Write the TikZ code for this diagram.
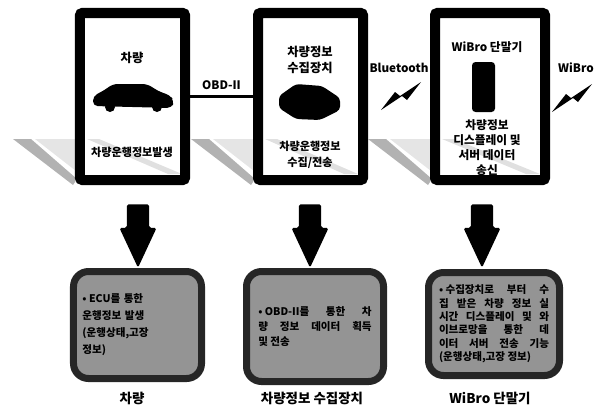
\documentclass[tikz,border=0pt]{standalone}
\usepackage{fontspec}
\setmainfont{Noto Sans CJK KR}
\usepackage{tikz}
\usetikzlibrary{shapes.arrows,positioning}

\tikzstyle{panel} = [rectangle, rounded corners=2pt, draw=black, line width=0.3cm, fill=white, minimum width=3.15cm, minimum height=5.01cm, inner sep=0pt]
\tikzstyle{infobox} = [rectangle, rounded corners=0.45cm, draw=black!85, line width=0.21cm, fill=black!42, minimum width=3.84cm, minimum height=3.21cm, text width=3.3cm, align=left, font=\bfseries\fontsize{8.5}{12.75}\selectfont]
\tikzstyle{title} = [font=\bfseries\fontsize{10}{13}\selectfont, align=center, inner sep=1pt]
\tikzstyle{note} = [font=\bfseries\fontsize{9.5}{13.5}\selectfont, align=center, inner sep=1pt]
\tikzstyle{caption} = [font=\bfseries\fontsize{11.5}{13}\selectfont, inner sep=1pt]
\tikzstyle{downarrow} = [single arrow, fill=black, rotate=-90, minimum height=1.9cm, minimum width=1.1cm, single arrow head extend=0.22cm, single arrow tip angle=50, inner xsep=0pt, inner ysep=0.33cm, rounded corners=1.5pt]
\tikzstyle{link} = [line width=2pt, black]

\newcommand{\wirelessbolt}[2]{\fill[black, shift={(#1,#2)}] (-20,14) -- (-6,-4) -- (-1,0) -- (20,-14) -- (6,4) -- (1,0) -- cycle;}

\begin{document}
\begin{tikzpicture}[x=0.03cm, y=-0.03cm]
\useasboundingbox (0,0) rectangle (598,411);

% floor glare under the devices
\foreach \l in {75,253,430} {
  \fill[black!10] (\l-40,139) -- (\l+10,139) -- (\l+10,178) -- cycle;
  \fill[black!30] (\l-62,139) -- (\l-44,139) -- (\l+2,179) -- (\l-2,185) -- cycle;
}

% device panels
\node (veh) [panel] at (132.5,96.5) {};
\node (col) [panel] at (310.5,96.5) {};
\node (term) [panel, minimum width=3.3cm] at (490,96.5) {};

\foreach \l/\r in {87/182, 265/358, 442/540} {
  \fill[black, opacity=0.12] (\l,139) -- (\l+12,139) -- (\r,174) -- (\r-14,174) -- cycle;
}

% OBD-II cable
\draw[link] (veh) -- node[title, above=4pt] (obd) {OBD-II} (col);

% vehicle
\node (vehtitle) [title, font=\bfseries\fontsize{10.5}{13}\selectfont] at (132,58) {차량};
\fill[black, rounded corners=4pt] (93,106) -- (93,96) -- (103,91) -- (113,84) -- (147,84) -- (160,92) -- (170,95) -- (174,101) -- (172,108) -- cycle;
\fill[black] (110,107) circle (5);
\fill[black] (157,107) circle (5);
\node (vehnote) [note] at (132,152) {차량운행정보발생};

% collector
\node (coltitle) [title, font=\bfseries\fontsize{10.5}{14}\selectfont] at (310,60) {차량정보\\수집장치};
\fill[black, rounded corners=3pt] (279,96) -- (296,84) -- (322,86) -- (340,98) -- (340,110) -- (320,120) -- (296,119) -- (279,108) -- cycle;
\node (colnote) [note] at (310,155) {차량운행정보\\수집/전송};

% terminal
\node (termtitle) [title] at (487,47) {WiBro 단말기};
\fill[black, rounded corners=3pt] (472,62) rectangle (495,112);
\node (termnote) [note, font=\bfseries\fontsize{10}{12.75}\selectfont] at (487,148) {차량정보\\디스플레이 및\\서버 데이터\\송신};

% wireless links
\node (bt) [title] at (399,68) {Bluetooth};
\node (wb) [title] at (576,68) {WiBro};
\wirelessbolt{401}{96}
\wirelessbolt{572}{98}

% down arrows
\node (vehdown) [downarrow] at (138,224) {};
\node (coldown) [downarrow] at (310,224) {};
\node (termdown) [downarrow] at (482,224) {};

% function boxes
\node (vehbox) [infobox, font=\bfseries\fontsize{9}{14.5}\selectfont] at (137.5,325) {•\hspace{2pt}ECU를 통한\\운행정보 발생\\(운행상태,고장\\정보)};
\node (colbox) [infobox, minimum width=4.11cm, minimum height=3.3cm, text width=3.4cm, align=justify, font=\bfseries\fontsize{9}{12.75}\selectfont] at (315,326.5) {•\hspace{2pt}OBD-II를 통한 차\linebreak 량 정보 데이터 획득\linebreak 및 전송};
\node (termbox) [infobox, minimum width=3.93cm, minimum height=3.09cm, text width=3.3cm, align=justify, font=\bfseries\fontsize{9}{11.4}\selectfont] at (494,324) {•\hspace{2pt}수집장치로 부터 수\linebreak 집 받은 차량 정보 실\linebreak 시간 디스플레이 및 와\linebreak 이브로망을 통한 데\linebreak 이터 서버 전송 기능\linebreak (운행상태,고장 정보)};

% captions
\node (vehcap) [caption] at (132,398) {차량};
\node (colcap) [caption] at (312,398) {차량정보 수집장치};
\node (termcap) [caption] at (490,398) {WiBro 단말기};
\end{tikzpicture}
\end{document}
